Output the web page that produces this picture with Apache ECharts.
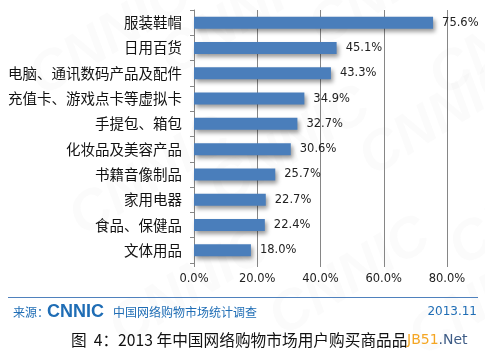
<!DOCTYPE html>
<html>
<head>
<meta charset="utf-8">
<script src="https://cdn.jsdelivr.net/npm/echarts@6/dist/echarts.min.js"></script>
<style>
  html, body { margin: 0; padding: 0; background: #fff; }
  #main { width: 485px; height: 355px; }
</style>
</head>
<body>
<div id="main"></div>
<script>
// 2013年中国网络购物市场用户购买商品品类
const categories = ['服装鞋帽', '日用百货', '电脑、通讯数码产品及配件', '充值卡、游戏点卡等虚拟卡',
  '手提包、箱包', '化妆品及美容产品', '书籍音像制品', '家用电器', '食品、保健品', '文体用品']
const values = [75.6, 45.1, 43.3, 34.9, 32.7, 30.6, 25.7, 22.7, 22.4, 18.0]
const xTicks = [0, 20, 40, 60, 80]

const chart = echarts.init(document.getElementById('main'))

// 背景水印
const marks = [[20, 60], [150, 40], [300, 10], [420, 60], [60, 200], [200, 170], [350, 140],
  [440, 230], [100, 310], [260, 300], [400, 320]]
const watermark = marks.map(p => ({
  type: 'text', x: p[0], y: p[1], rotation: 0.55, z: -1,
  style: { text: 'CNNIC', fontSize: 56, fontWeight: 'bold', fontStyle: 'italic',
    fontFamily: 'Arial', fill: 'rgba(170,170,170,0.05)' }
}))

const option = {
  animation: false,
  grid: { left: 194, right: 38, top: 10, bottom: 92 },
  xAxis: {
    type: 'value',
    min: xTicks[0],
    max: xTicks[xTicks.length - 1],
    interval: 20,
    axisLine: { show: false },
    axisTick: { show: true, length: 4, lineStyle: { color: '#868686' } },
    splitLine: { show: true, lineStyle: { color: '#868686', width: 1 } },
    axisLabel: {
      formatter: v => v.toFixed(1) + '%',
      fontFamily: 'DejaVu Sans', fontSize: 11.5, color: '#222', margin: 10
    }
  },
  yAxis: {
    type: 'category',
    inverse: true,
    data: categories,
    axisLine: { show: true, lineStyle: { color: '#868686' } },
    axisTick: { show: true, length: 4, lineStyle: { color: '#868686' } },
    axisLabel: { fontFamily: 'Noto Sans CJK SC', fontSize: 14.5, color: '#111', margin: 12 }
  },
  series: [{
    type: 'bar',
    data: values,
    barWidth: 12,
    itemStyle: {
      color: '#4A7EBB',
      shadowColor: 'rgba(0,0,0,0.4)',
      shadowBlur: 4,
      shadowOffsetX: 2,
      shadowOffsetY: 3
    },
    label: {
      show: true,
      position: 'right',
      distance: 9,
      formatter: p => p.value.toFixed(1) + '%',
      fontFamily: 'DejaVu Sans', fontSize: 11.5, color: '#222'
    }
  }],
  graphic: watermark.concat([
    { type: 'line', shape: { x1: 8, y1: 297.5, x2: 478, y2: 297.5 },
      style: { stroke: '#4F81BD', lineWidth: 1 } },
    { type: 'text', x: 13, y: 312,
      style: { text: '来源：', fontSize: 12, fontFamily: 'Noto Sans CJK SC', fill: '#1F6DB5',
        verticalAlign: 'middle' } },
    { type: 'text', x: 47, y: 312,
      style: { text: 'CNNIC', fontSize: 18, fontWeight: 'bold', fontFamily: 'Arial',
        fill: '#1F6DB5', verticalAlign: 'middle' } },
    { type: 'text', x: 113, y: 312,
      style: { text: '中国网络购物市场统计调查', fontSize: 12, fontFamily: 'Noto Sans CJK SC', fill: '#1F6DB5',
        verticalAlign: 'middle' } },
    { type: 'text', x: 477, y: 312,
      style: { text: '2013.11', fontSize: 12, fontFamily: 'DejaVu Sans', fill: '#1F6DB5',
        align: 'right', verticalAlign: 'middle' } },
    { type: 'text', x: 71, y: 340,
      style: { text: '图  4：2013 年中国网络购物市场用户购买商品品', fontSize: 15.7, fontFamily: 'Noto Sans CJK SC',
        fill: '#111', verticalAlign: 'middle' } },
    { type: 'text', x: 407, y: 340,
      style: { text: '{a|JB51}{b|.Net}', verticalAlign: 'middle',
        rich: {
          a: { fontSize: 14, fontFamily: 'DejaVu Sans', fill: '#F5A623' },
          b: { fontSize: 14, fontFamily: 'DejaVu Sans', fill: '#3E5C86' }
        } } }
  ])
}

chart.setOption(option)
</script>
</body>
</html>
